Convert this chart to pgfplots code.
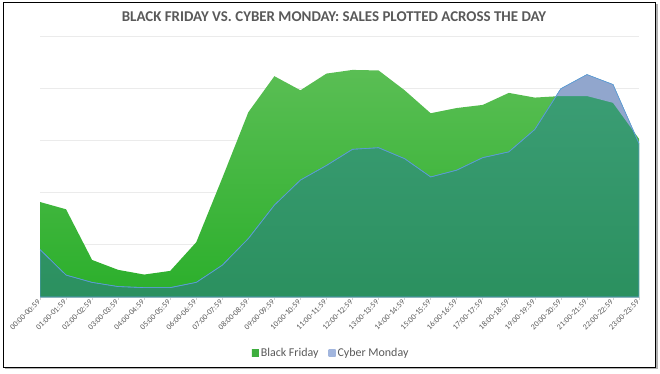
\documentclass[border=0pt]{standalone}
\usepackage{pgfplots}
\usepackage{pgfplotstable}
\pgfplotsset{compat=1.18}
\usepgfplotslibrary{fillbetween}
\usepackage{fontspec}
\setmainfont{Carlito}
\definecolor{bfTop}{HTML}{5ABE54}
\definecolor{bfBot}{HTML}{2BAF2B}
\definecolor{cmTop}{HTML}{3C9E76}
\definecolor{cmBot}{HTML}{2B905F}
\definecolor{cmGray}{HTML}{91A6CD}
\definecolor{cmLine}{HTML}{5B9BD5}
\definecolor{bfLeg}{HTML}{3EAE3E}
\definecolor{cmLeg}{HTML}{A2B6DE}
\definecolor{labGray}{HTML}{595959}
\definecolor{gridGray}{HTML}{EBEBEB}
\definecolor{axGray}{HTML}{D0D0D0}
\pgfplotstableread{
x bf cm
0 1.82 0.91
1 1.68 0.42
2 0.71 0.28
3 0.52 0.20
4 0.43 0.18
5 0.50 0.18
6 1.05 0.28
7 2.28 0.61
8 3.54 1.12
9 4.23 1.76
10 3.96 2.24
11 4.28 2.52
12 4.35 2.83
13 4.34 2.86
14 3.96 2.65
15 3.52 2.30
16 3.62 2.43
17 3.68 2.67
18 3.91 2.78
19 3.82 3.21
20 3.85 3.99
21 3.85 4.26
22 3.72 4.07
23 3.03 2.94
}\data
\begin{document}
\begin{tikzpicture}[x=1bp,y=1bp]
\path (0,0) rectangle (660,373);
\draw[gray!60, line width=1.6bp] (5,5) -- (657,5) -- (657,369);
\draw[black, line width=0.8bp] (3,6) rectangle (655,371);
\node[font=\bfseries\fontsize{15}{17}\selectfont, text=labGray] at (334,356) {BLACK FRIDAY VS.\ CYBER MONDAY: SALES PLOTTED ACROSS THE DAY};
\begin{axis}[
  at={(40bp,76bp)}, anchor=south west,
  scale only axis, width=599bp, height=261bp,
  xmin=0, xmax=23, ymin=0, ymax=5,
  axis x line*=bottom, axis y line*=left,
  y axis line style={draw=none},
  x axis line style={draw=axGray},
  ytick={1,2,3,4,5}, yticklabels={}, ytick style={draw=none},
  ymajorgrids, grid style={draw=gridGray, line width=0.7bp},
  xtick={0,...,23},
  xticklabels={00:00-00:59,01:00-01:59,02:00-02:59,03:00-03:59,04:00-04:59,05:00-05:59,06:00-06:59,07:00-07:59,08:00-08:59,09:00-09:59,10:00-10:59,11:00-11:59,12:00-12:59,13:00-13:59,14:00-14:59,15:00-15:59,16:00-16:59,17:00-17:59,18:00-18:59,19:00-19:59,20:00-20:59,21:00-21:59,22:00-22:59,23:00-23:59},
  xtick style={draw=axGray, line width=0.6bp},
  tick align=outside, major tick length=3bp,
  xticklabel style={rotate=45, anchor=east, font=\fontsize{8}{9}\selectfont, text=labGray, inner sep=1.5bp},
  legend style={at={(0.486,-0.2146)}, anchor=center, draw=none, fill=none,
    legend columns=2, font=\fontsize{12}{14}\selectfont, text=labGray,
    /tikz/every even column/.append style={column sep=8bp}},
]
\addplot[draw=none, top color=bfTop, bottom color=bfBot,
  legend image code/.code={\path[draw=none, top color=bfLeg, bottom color=bfLeg] (0bp,-3.5bp) rectangle (7bp,3.5bp);}]
  table[x=x,y=bf]{\data} \closedcycle;
\addlegendentry{Black Friday}
\addplot[draw=cmLine, line width=0.6bp, top color=cmTop, bottom color=cmBot,
  legend image code/.code={\path[draw=none, top color=cmLeg, bottom color=cmLeg] (0bp,-3.5bp) rectangle (7bp,3.5bp);}]
  table[x=x,y=cm]{\data} \closedcycle;
\addlegendentry{Cyber Monday}
\addplot[name path=bfl, draw=none, forget plot] table[x=x,y=bf]{\data};
\addplot[name path=cml, draw=none, forget plot] table[x=x,y=cm]{\data};
\addplot[fill=cmGray, draw=none, forget plot] fill between[of=cml and bfl,
  soft clip={domain=19.813:22.795}, on layer=axis foreground];
\addplot[draw=cmLine, line width=0.6bp, forget plot, on layer=axis foreground] table[x=x,y=cm]{\data};
\end{axis}
\end{tikzpicture}
\end{document}
